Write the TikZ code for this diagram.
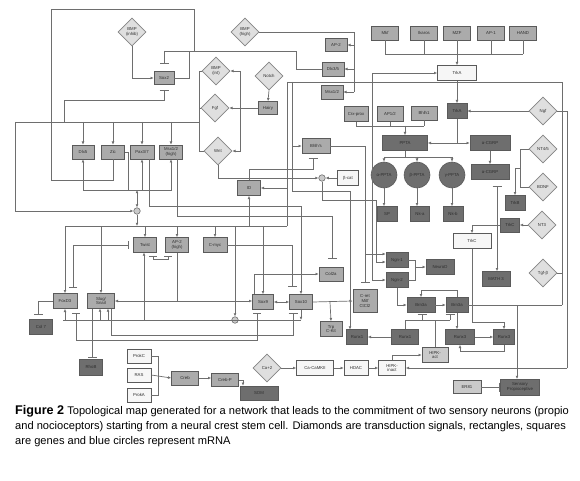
\documentclass[tikz,border=0pt]{standalone}
\usepackage{fontspec}
\setmainfont{Liberation Sans}
\usetikzlibrary{shapes.geometric,arrows.meta}
\definecolor{ln}{HTML}{6E6E6E}
\definecolor{mgf}{HTML}{ABABAB}
\definecolor{dgf}{HTML}{6E6E6E}
\definecolor{lgf}{HTML}{F6F6F6}
\definecolor{hgf}{HTML}{CACACA}
\definecolor{dmf}{HTML}{DFDFDF}
\definecolor{bdr}{HTML}{5A5A5A}
\definecolor{tx}{HTML}{2E2E2E}
\newcommand{\tinyf}{\fontsize{4.3}{4.9}\selectfont}
\tikzset{
 bx/.style={rectangle, draw=bdr, line width=0.6pt, inner sep=0pt, align=center, font=\tinyf, text=tx},
 mg/.style={bx, fill=mgf},
 dg/.style={bx, fill=dgf},
 lg/.style={bx, fill=lgf},
 hg/.style={bx, fill=hgf},
 dmd/.style={diamond, draw=ln!85, fill=dmf, line width=0.6pt, inner sep=0pt, minimum width=28pt, minimum height=28pt, align=center, font=\tinyf, text=tx},
 bigc/.style={circle, draw=bdr, fill=dgf, minimum size=26pt, inner sep=0pt, font=\tinyf, text=tx, line width=0.6pt},
 rna/.style={circle, draw=ln, fill=hgf, minimum size=6.5pt, inner sep=0pt, line width=0.6pt},
 wire/.style={draw=ln, line width=0.7pt},
 arw/.style={wire, -{Latex[length=3.2pt,width=2.8pt]}},
 arwb/.style={wire, {Latex[length=3.2pt,width=2.8pt]}-{Latex[length=3.2pt,width=2.8pt]}},
 inh/.style={wire, -{Bar[width=9pt,line width=0.9pt]}},
 inhb/.style={wire, {Bar[width=8pt,line width=0.9pt]}-{Bar[width=8pt,line width=0.9pt]}},
 barar/.style={wire, {Bar[width=9pt,line width=0.9pt]}-{Latex[length=3.2pt,width=2.8pt]}},
 captxt/.style={anchor=base west, inner sep=0pt, font=\fontsize{11.1}{13}\selectfont},
}
\newcommand{\mybox}[6]{\node[#1,minimum width=#4pt,minimum height=#5pt] (#2) at (#3) {#6};}
\begin{document}
\begin{tikzpicture}[x=1pt,y=-1pt]
\path[use as bounding box, fill=white] (0,0) rectangle (580,481);

% ---------- nodes ----------
\node[dmd] (bmpi) at (132,32) {BMP\\(inhib)};
\node[dmd] (bmph) at (245,32) {BMP\\(high)};
\node[dmd] (bmpint) at (216,71) {BMP\\(int)};
\node[dmd] (fgf) at (215,108) {Fgf};
\node[dmd] (wnt) at (218,151) {Wnt};
\node[dmd] (notch) at (269,76) {Notch};
\node[dmd] (ngf) at (543,111) {Ngf};
\node[dmd] (nt45) at (543,149) {NT4/5};
\node[dmd] (bdnf) at (543,187) {BDNF};
\node[dmd] (nt3) at (542,225) {NT3};
\node[dmd] (tgfb) at (543,273) {Tgf-β};
\node[dmd] (ca) at (267,368) {Ca+2};

\mybox{mg}{sox2}{164,78}{20}{13}{Sox2}
\mybox{mg}{hairy}{268,108}{19}{13}{Hairy}
\mybox{mg}{ap2}{336,45}{22}{13}{AP-2}
\mybox{mg}{dlx35}{333,69}{22}{14}{Dlx3/5}
\mybox{mg}{msx12}{332,92}{22}{14}{Msx1/2}
\mybox{mg}{dlx5}{83,152}{22}{14}{Dlx5}
\mybox{mg}{zic}{113,152}{23}{14}{Zic}
\mybox{mg}{pax}{142,152}{24}{14}{Pax3/7}
\mybox{mg}{msxh}{171,152}{23}{14}{Msx1/2\\(high)}
\mybox{mg}{mkf}{385,33}{27}{14}{Mkf}
\mybox{mg}{ikaros}{424,33}{27}{14}{Ikaros}
\mybox{mg}{mzf}{457,33}{27}{14}{MZF}
\mybox{mg}{apone}{491,33}{27}{14}{AP-1}
\mybox{mg}{hand}{523,33}{27}{14}{HAND}
\mybox{lg}{trkal}{457,73}{39}{15}{TrkA}
\mybox{dg}{trkad}{457,111}{20}{15}{TrkA}
\mybox{mg}{crx}{356,114}{24}{15}{Crx-prox}
\mybox{mg}{ap12}{390,114}{26}{15}{AP1/2}
\mybox{mg}{bhlh1}{424,113}{26}{14}{Bhlh1}
\mybox{dg}{ppta}{405,143}{45}{15}{PPTA}
\mybox{dg}{cgrpa}{490,143}{40}{15}{α-CGRP}
\mybox{dg}{cgrpb}{490,172}{38}{15}{α-CGRP}
\node[bigc] (pa) at (384,175) {α-PPTA};
\node[bigc] (pb) at (417,175) {β-PPTA};
\node[bigc] (pg) at (452,175) {γ-PPTA};
\mybox{dg}{sp}{387,214}{20}{15}{SP}
\mybox{dg}{nka}{420,214}{19}{15}{Nk-a}
\mybox{dg}{nkb}{453,214}{20}{15}{Nk-b}
\mybox{dg}{trkb}{515,203}{20}{15}{TrkB}
\mybox{dg}{trkcd}{510,225}{19}{14}{TrkC}
\mybox{lg}{trkcl}{472,241}{38}{15}{TrkC}
\mybox{mg}{bhlhs}{316,146}{28}{15}{Bhlh's}
\mybox{mg}{id}{249,188}{23}{15}{ID}
\node[rna] (ma) at (137,211) {};
\node[rna] (mb) at (322,178) {};
\node[rna] (mc) at (235,320) {};
\mybox{lg}{bcat}{348,178}{21}{15}{β-cat}
\mybox{mg}{twist}{145,245}{23}{15}{Twist}
\mybox{mg}{ap2h}{177,245}{23}{15}{AP-2\\(high)}
\mybox{mg}{cmyc}{215,245}{24}{15}{C-myc}
\mybox{mg}{foxd}{65,301}{24}{15}{FoxD3}
\mybox{mg}{slug}{101,301}{27}{15}{Slug/\\Snail}
\mybox{dg}{colseven}{41,327}{23}{15}{Col 7}
\mybox{dg}{rhob}{91,367}{23}{16}{RhoB}
\mybox{mg}{soxnine}{263,302}{21}{15}{Sox9}
\mybox{mg}{soxten}{301,302}{23}{15}{Sox10}
\mybox{mg}{coltwo}{331,274}{24}{14}{Col2a}
\mybox{mg}{trp}{331,329}{22}{15}{Trp\\C-Kit}
\mybox{mg}{cret}{365,301}{24}{23}{C-ret\\Mitf\\CtCl2}
\mybox{dg}{ngnone}{397,260}{22}{15}{Ngn-1}
\mybox{dg}{ngntwo}{397,280}{22}{15}{Ngn-2}
\mybox{dg}{neurod}{440,267}{28}{15}{NeuroD}
\mybox{dg}{math}{496,279}{28}{15}{MATH 3}
\mybox{dg}{brna}{421,305}{28}{15}{Brn3a}
\mybox{dg}{brnb}{457,305}{22}{15}{Brn3a}
\mybox{dg}{runxa}{357,337}{21}{15}{Runx1}
\mybox{dg}{runxb}{405,337}{27}{15}{Runx1}
\mybox{dg}{runxc}{460,337}{29}{15}{Runx3}
\mybox{dg}{runxd}{504,337}{21}{15}{Runx3}
\mybox{hg}{hipka}{435,355}{26}{15}{HIPK-\\act}
\mybox{lg}{hipki}{392,368}{27}{15}{HIPK-\\inact}
\mybox{hg}{er}{467,387}{28}{13}{ER81}
\mybox{dg}{sens}{520,387}{39}{16}{Sensory\\Propioceptive}
\mybox{lg}{prkc}{139,356}{24}{14}{ProkC}
\mybox{lg}{ras}{139,375}{24}{14}{RAS}
\mybox{lg}{prka}{139,395}{24}{14}{ProkA}
\mybox{mg}{creb}{185,378}{27}{14}{Creb}
\mybox{mg}{crebp}{225,380}{27}{13}{Creb-P}
\mybox{dg}{som}{259,393}{38}{14}{SOM}
\mybox{lg}{camk}{315,368}{37}{15}{Ca-CaMKII}
\mybox{lg}{hdac}{356,368}{24}{15}{HDAC}

% ---------- connectors ----------
% top loop and Sox2
\draw[wire] (dlx35.west) -- (296,69) -- (296,51) -- (164,51);
\draw[inh] (164,51) -- (164,64);
\draw[wire] (194,51) -- (194,9) -- (51,9) -- (51,180);
\draw[wire] (sox2.east) -- (189,78) -- (189,51);
\draw[arw] (bmpi.south) |- (sox2.west);
\draw[inh] (64,122) -- (64,100) -- (164,100) -- (164,90);
% row to neural plate border genes
\draw[wire] (15,122) -- (199,122);
\draw[arw] (83,122) -- (dlx5.north);
\draw[arw] (113,122) -- (zic.north);
\draw[arw] (142,122) -- (pax.north);
\draw[arw] (171,122) -- (msxh.north);
\draw[arw] (15,122) |- (ma.west);
\draw[wire] (zic.south) |- (51,180);
% signals
\draw[wire] (bmpint.west) -- (199,71) -- (199,151) -- (wnt.west);
\draw[wire] (fgf.west) -- (199,108);
\draw[arw] (notch.south) -- (hairy.north);
\draw[arw] (hairy.west) -- (fgf.east);
\draw[arw] (240,108) |- (bmpint.east);
\draw[arw] (240,108) |- (wnt.east);
\draw[wire] (bmph.east) -- (354,32) -- (354,92);
\draw[arw] (354,45) -- (ap2.east);
\draw[arw] (354,69) -- (dlx35.east);
\draw[arw] (354,92) -- (msx12.east);
% outputs of border genes
\draw[wire] (83,190) -- (172,190);
\draw[arw] (83,190) -- (dlx5.south);
\draw[arw] (142,190) -- (pax.south);
\draw[arw] (171,190) -- (msxh.south);
\draw[wire] (zic.east) -- (128,152) -- (128,190);
\draw[arwb] (137,190) -- (ma.north);
\draw[arw] (ma.south) -- (137,226);
\draw[wire] (149,159) -- (149,206) -- (301,206);
\draw[arw] (301,206) -- (soxten.north);
\draw[wire] (177,159) -- (177,216) -- (332,216);
\draw[inh] (332,216) -- (332,259);
% row 226
\draw[wire] (65,226) -- (287,226);
\draw[arw] (65,226) -- (foxd.north);
\draw[arw] (101,226) -- (slug.north);
\draw[arw] (145,226) -- (twist.north);
\draw[arw] (177,226) -- (ap2h.north);
\draw[arw] (215,226) -- (cmyc.north);
\draw[arw] (249,226) -- (id.south);
\draw[arw] (263,226) -- (soxnine.north);
\draw[arw] (235,226) -- (mc.north);
% Wnt / beta-cat / ID / Bhlh
\draw[arw] (wnt.south) |- (mb.west);
\draw[arw] (bcat.west) -- (mb.east);
\draw[inh] (id.north) |- (313,169) -- (313,158);
\draw[wire] (287,82) -- (562,82) -- (562,305);
\draw[wire] (287,82) -- (287,226);
\draw[arw] (287,188) -- (id.east);
\draw[arw] (292,82) |- (bhlhs.west);
\draw[arw] (292,146) -- (292,191) -- (350,191) -- (350,329.5);
\draw[inh] (bhlhs.east) -- (365,146) -- (365,283);
\draw[arw] (365,254) -- ([yshift=6pt]ngnone.west);
\draw[arw] (mb.south) |- (376,200) |- ([yshift=-2pt]ngnone.west);
\draw[arwb] (trkal.west) -| (372.5,280) -- (ngntwo.west);
% PPTA inputs
\draw[wire] (crx.south) |- (424,126);
\draw[wire] (ap12.south) -- (390,126);
\draw[wire] (bhlh1.south) -- (424,126);
\draw[arw] (405,126) -- (ppta.north);
% TrkA
\draw[wire] (mkf.south) |- (523,54);
\draw[wire] (ikaros.south) -- (424,54);
\draw[wire] (apone.south) -- (491,54);
\draw[wire] (hand.south) -- (523,54);
\draw[arw] (mzf.south) -- (trkal.north);
\draw[arw] (trkal.south) -- (trkad.north);
\draw[arw] (ngf.west) -- (trkad.east);
\draw[wire] (ngf.east) -- (567,111) -- (567,368);
\draw[arw] (567,368) -- (hipki.east);
\draw[wire] (trkad.south) -- (457,143);
\draw[arw] (457,143) -- (ppta.east);
\draw[arw] (457,143) -- (cgrpa.west);
\draw[arw] (cgrpa.south) -- (cgrpb.north);
\draw[wire] (ppta.south) -- (405,157);
\draw[wire] (384,157) -- (452,157);
\draw[arw] (384,157) -- (pa.north);
\draw[arw] (417,157) -- (pb.north);
\draw[arw] (452,157) -- (pg.north);
\draw[arw] (pa.south) -- (pa.south |- sp.north);
\draw[arw] (pb.south) -- (pb.south |- nka.north);
\draw[arw] (pg.south) -- (pg.south |- nkb.north);
% neurotrophins
\draw[wire] (nt45.west) -- (520,149) -- (520,187) -- (bdnf.west);
\draw[arw] (520,168) -| (trkb.north);
\draw[arw] (nt3.west) -- (trkcd.east);
\draw[arw] (trkcd.west) -| (trkcl.north);
\draw[arw] (trkcl.south) -- (472,322) -| (runxd.north);
\draw[barar] (497,186) -- (math.north -| 497,0);
\draw[wire] (tgfb.east) -- (562,273);
% Ngn / Brn3a / Runx
\draw[wire] (ngnone.east) -- (415,260) -- (415,280) -- (ngntwo.east);
\draw[arw] (415,267) -- (neurod.west);
\draw[arw] (ngntwo.south) |- (brna.west);
\draw[arw] (brna.east) -- (brnb.west);
\draw[arw] (brnb.north) -- (457,290) -| (brna.north);
\draw[wire] (brnb.east) -- (562,305);
\draw[arw] (517,305) -- (517,379);
\draw[arw] (brnb.south) -- (brnb.south |- runxc.north);
\draw[arw] (runxc.east) -- (runxd.west);
\draw[arw] (runxd.south) -- (504,351) -| (runxc.south);
\draw[wire] (runxb.north) |- (450,320);
\draw[inh] (422,320) -- (422,314);
\draw[inh] (450,320) -- (450,314);
\draw[wire] (hipka.north) -- (435,320);
\draw[arw] (runxb.west) -- (runxa.east);
\draw[arw] (hipki.north) |- (hipka.west);
\draw[inh] (er.east) -- (sens.west);
% calcium / creb
\draw[arw] (ca.east) -- (camk.west);
\draw[arw] (camk.east) -- (hdac.west);
\draw[arw] (hdac.east) -- (hipki.west);
\draw[wire] (prkc.east) -| (158,375);
\draw[wire] (prka.east) -| (158,375);
\draw[arw] (ras.east) -- (creb.west);
\draw[arw] (creb.east) -- (creb.east -| crebp.west);
\draw[arw] (crebp.east) -| ([xshift=-16pt]som.north);
% neural crest specifiers
\draw[inh] (foxd.west) -| (38,315);
\draw[inh] ([xshift=-9pt]slug.south) -- ([xshift=1pt,yshift=1pt]rhob.north);
\draw[inhb] (73,288) -- (73,245) -- (129,245);
\draw[inhb] (153,256) -- (153,259) -- (168,259) -- (168,256);
\draw[arw] (144,320) -- (144,252.5);
\draw[wire] (ap2h.south) -- (177,301);
\draw[arwb] (slug.east) -- (slug.east -| soxnine.west);
\draw[arwb] (soxnine.east) -- (soxten.west);
\draw[arw] (soxten.east) -- (cret.west);
\draw[arw] (330,302) -- (trp.north);
\draw[arw] ([xshift=-9pt]soxnine.north) |- (coltwo.west);
\draw[inh] (cmyc.east) -| (292,287);
\draw[wire] (63,320) -- (301,320);
\draw[arw] (65,320) -- (foxd.south);
\draw[arw] (100,320) -- (100,308.5);
\draw[arw] (108,320) -- (108,308.5);
\draw[arw] (soxten.south) -- (301,320);
\draw[inhb] (76,313) -- (76,340) -- (257,340) -- (257,313);
\draw[inh] (111,308.5) -- (111,335) -- (293,335) -- (293,313);

% ---------- caption ----------
\node[captxt] (capa) at (15,414) {{\fontsize{12.6}{13}\selectfont\bfseries Figure 2} Topological map generated for a network that leads to the commitment of two sensory neurons (propio};
\node[captxt] (capb) at (15,429) {and nocioceptors) starting from a neural crest stem cell. Diamonds are transduction signals, rectangles, squares};
\node[captxt] (capc) at (15,444) {are genes and blue circles represent mRNA};
\end{tikzpicture}
\end{document}
